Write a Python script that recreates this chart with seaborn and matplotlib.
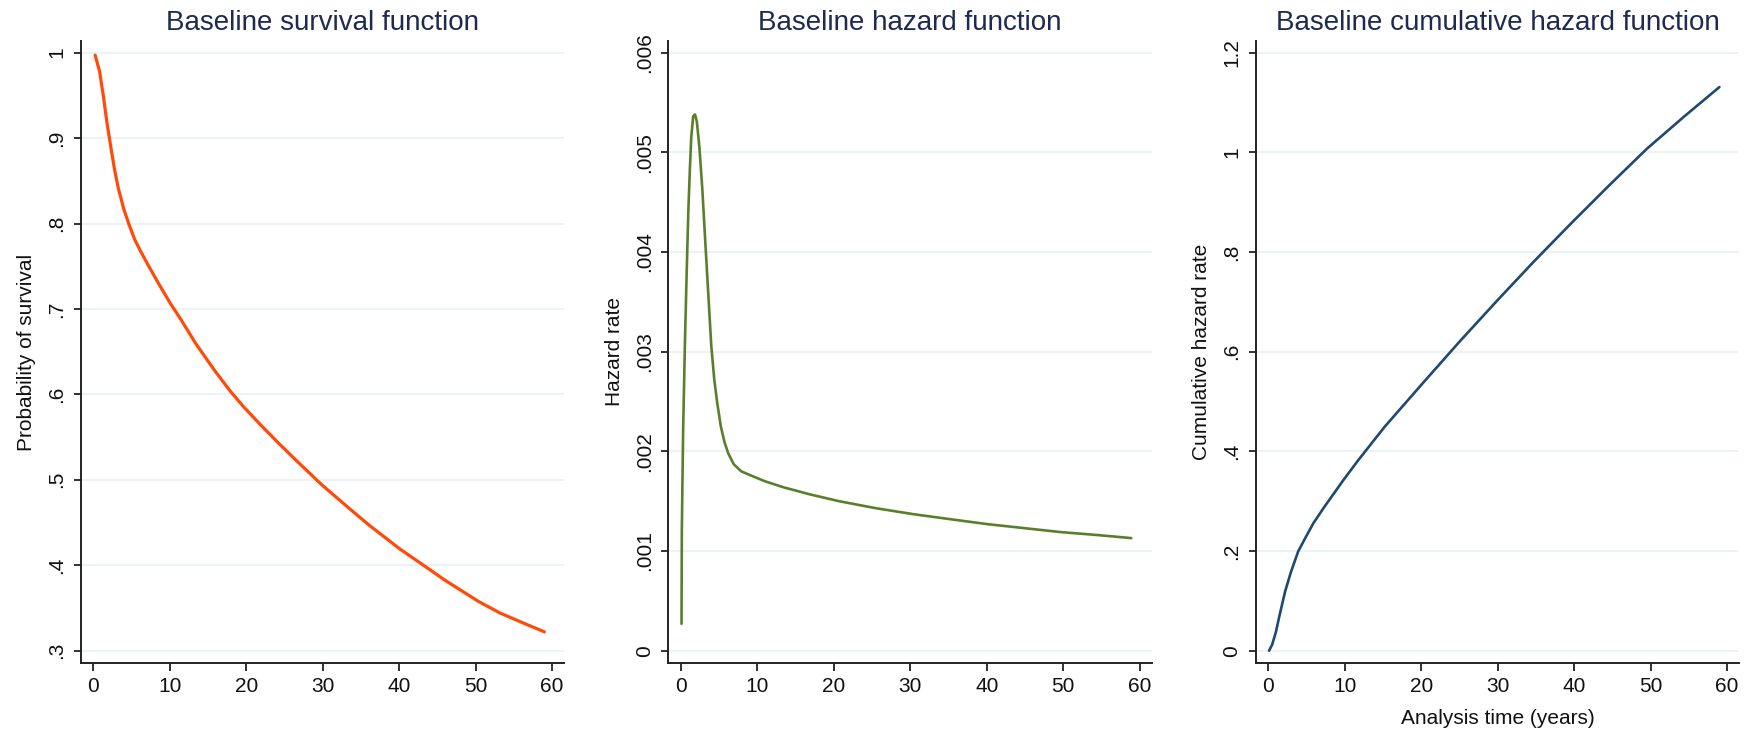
import matplotlib
matplotlib.use("Agg")
import matplotlib.pyplot as plt
import seaborn as sns
import pandas as pd

# ---------------- data ----------------
surv_t = [0.24, 0.82, 1.3, 1.8, 2.3, 2.76, 3.25, 3.98, 4.7, 5.43, 6.16, 7.13, 8.58,
          10.04, 11.5, 13.43, 15.86, 17.8, 19.7, 21.7, 24.1, 26.5, 29.9, 33.8, 36.2,
          40.1, 43.5, 45.9, 50.3, 53.2, 56.6, 59.0]
surv_s = [0.997, 0.978, 0.950, 0.917, 0.889, 0.864, 0.842, 0.817, 0.798, 0.781, 0.768,
          0.752, 0.729, 0.707, 0.687, 0.659, 0.628, 0.605, 0.585, 0.566, 0.544, 0.523,
          0.494, 0.464, 0.446, 0.419, 0.398, 0.383, 0.358, 0.344, 0.331, 0.322]

haz_t = [0.08, 0.12, 0.29, 0.53, 0.77, 0.97, 1.16, 1.35, 1.6, 1.84, 2.08, 2.42, 2.8,
         3.19, 3.58, 3.97, 4.35, 4.74, 5.22, 5.71, 6.19, 6.92, 7.89, 9.1, 11.0, 13.4,
         16.8, 20.7, 25.5, 30.4, 35.2, 40.1, 44.9, 49.7, 54.6, 58.9]
haz_h = [0.00027, 0.00121, 0.00221, 0.00311, 0.00384, 0.00441, 0.00481, 0.00515,
         0.00536, 0.00538, 0.00531, 0.00505, 0.00463, 0.00410, 0.00358, 0.00306,
         0.00273, 0.00249, 0.00225, 0.00209, 0.00198, 0.00187, 0.00180, 0.00176,
         0.00170, 0.00164, 0.00157, 0.00150, 0.00143, 0.00137, 0.00132, 0.00127,
         0.00123, 0.00119, 0.00116, 0.00113]

cum_t = [0.1, 0.5, 1.0, 1.47, 2.2, 2.94, 3.9, 4.9, 5.9, 7.35, 9.8, 11.75, 15.2, 20.1,
         25.0, 29.9, 34.8, 39.7, 44.6, 49.5, 54.4, 59.0]
cum_H = [0.0, 0.012, 0.038, 0.071, 0.119, 0.157, 0.199, 0.228, 0.256, 0.289, 0.342,
         0.382, 0.449, 0.535, 0.620, 0.702, 0.782, 0.859, 0.934, 1.007, 1.072, 1.131]

x_ticks = [0, 10, 20, 30, 40, 50, 60]
surv_yticks = [0.3, 0.4, 0.5, 0.6, 0.7, 0.8, 0.9, 1.0]
surv_ylabels = [".3", ".4", ".5", ".6", ".7", ".8", ".9", "1"]
haz_yticks = [0, 0.001, 0.002, 0.003, 0.004, 0.005, 0.006]
haz_ylabels = ["0", ".001", ".002", ".003", ".004", ".005", ".006"]
cum_yticks = [0, 0.2, 0.4, 0.6, 0.8, 1.0, 1.2]
cum_ylabels = ["0", ".2", ".4", ".6", ".8", "1", "1.2"]

titles = ["Baseline survival function", "Baseline hazard function",
          "Baseline cumulative hazard function"]
ylabels = ["Probability of survival", "Hazard rate", "Cumulative hazard rate"]
xlabel3 = "Analysis time (years)"

# ---------------- style ----------------
sns.set_theme(style="white")
plt.rcParams["font.family"] = ["Liberation Sans", "DejaVu Sans"]

fig = plt.figure(figsize=(17.46, 7.42), dpi=100)
W, H = 1746.0, 742.0
lefts = [80.7, 668.3, 1255.7]
aw = 483.6
top, bottom = 40.7, 663.3

panels = [
    (pd.DataFrame({"t": surv_t, "v": surv_s}), "#ff4a0a", 2.3,
     (0.2852, 1.014), surv_yticks, surv_ylabels),
    (pd.DataFrame({"t": haz_t, "v": haz_h}), "#5a7f2b", 1.9,
     (-0.000126, 0.00612), haz_yticks, haz_ylabels),
    (pd.DataFrame({"t": cum_t, "v": cum_H}), "#1f4a70", 1.9,
     (-0.0253, 1.224), cum_yticks, cum_ylabels),
]

for i, (df, col, lw, ylim, yt, yl) in enumerate(panels):
    ax = fig.add_axes([lefts[i] / W, 1 - bottom / H, aw / W, (bottom - top) / H])
    ax.set_facecolor("white")
    for yv in yt:
        ax.axhline(yv, color="#e9f1f2", lw=1.2, zorder=0)
    sns.lineplot(data=df, x="t", y="v", ax=ax, color=col, linewidth=lw,
                 estimator=None, sort=False, zorder=3)
    ax.set_xlim(-1.65, 61.6)
    ax.set_ylim(*ylim)
    ax.set_xticks(x_ticks)
    ax.set_xticklabels([str(v) for v in x_ticks])
    ax.set_yticks(yt)
    ax.set_yticklabels(yl, rotation=90, va="center")
    for s in ["top", "right"]:
        ax.spines[s].set_visible(False)
    for s in ["left", "bottom"]:
        ax.spines[s].set_color("#222222")
        ax.spines[s].set_linewidth(1.4)
    ax.tick_params(axis="x", length=6, width=1.3, pad=4, labelsize=15,
                   colors="#222222", labelcolor="#111111", bottom=True)
    ax.tick_params(axis="y", length=5.3, width=1.3, pad=5, labelsize=15,
                   colors="#222222", labelcolor="#111111", left=True)
    ax.grid(False)
    ax.set_title(titles[i], fontsize=20, color="#1e2b50", pad=8)
    ax.set_ylabel(ylabels[i], fontsize=15, color="#111111", labelpad=8)
    if i == 2:
        ax.set_xlabel(xlabel3, fontsize=15, color="#111111", labelpad=9)
    else:
        ax.set_xlabel("")

fig.savefig("out.png", dpi=100, facecolor="white")
